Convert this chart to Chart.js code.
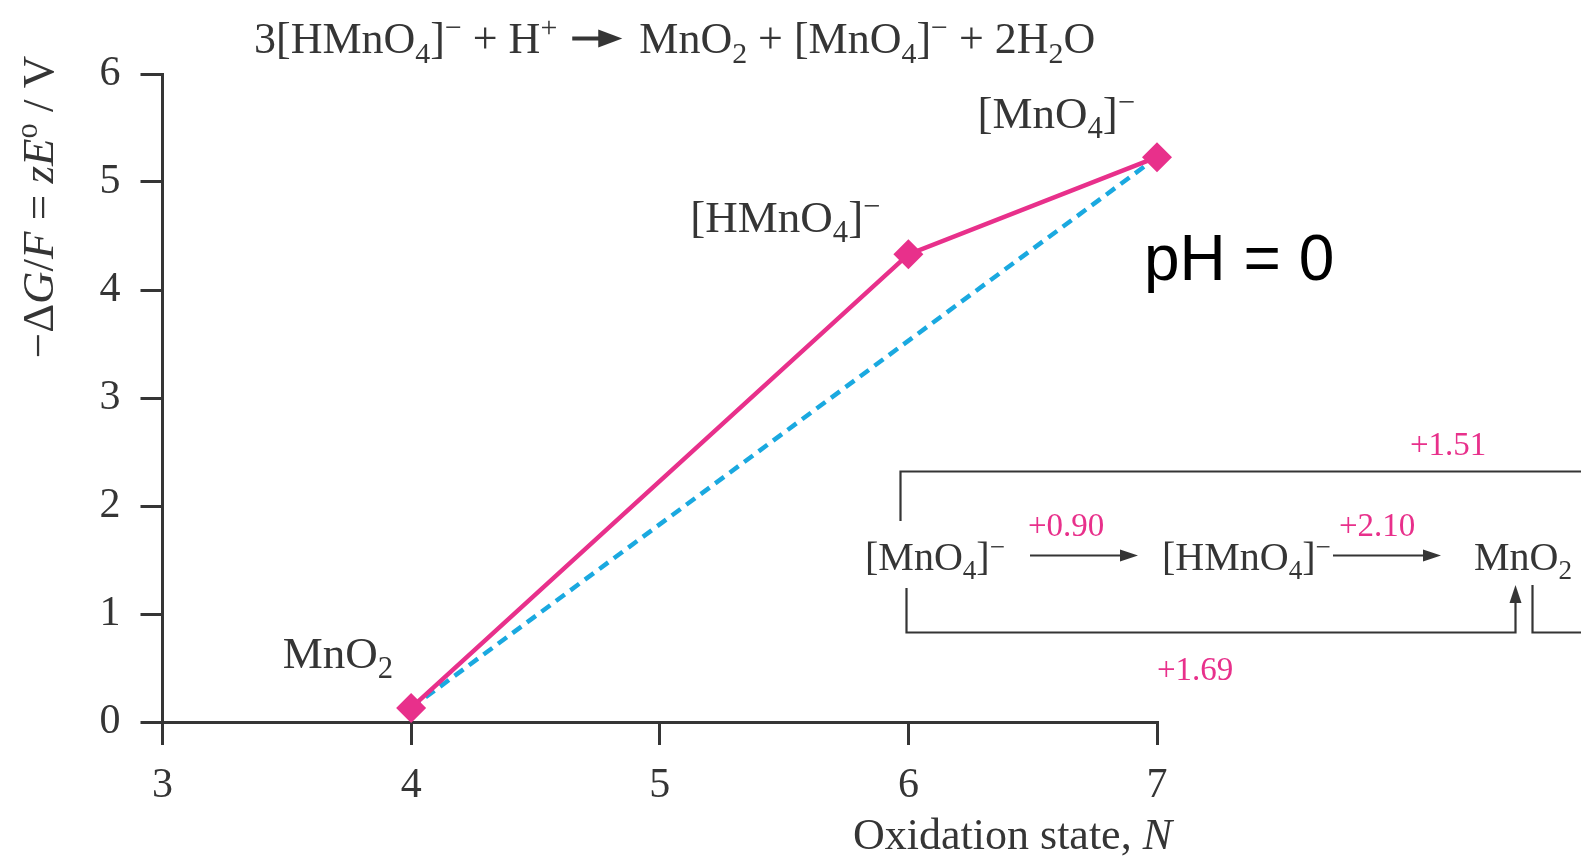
<!DOCTYPE html>
<html>
<head>
<meta charset="utf-8">
<script src="https://cdn.jsdelivr.net/npm/chart.js@4.4.1/dist/chart.umd.min.js"></script>
<style>
  body { margin: 0; background: #fff; }
  #chart { display: block; }
</style>
</head>
<body>
<canvas id="chart" width="1581" height="862"></canvas>
<script>
// Frost diagram for Mn at pH 0
const oxidationStates = [4, 6, 7];
const speciesLabels = ['MnO2', '[HMnO4]-', '[MnO4]-'];
const volts = [0.13, 4.33, 5.23];

// dashed tie line MnO2 -> [MnO4]-
const tieX = [4, 7];
const tieY = [0.13, 5.23];

const xTicks = [3, 4, 5, 6, 7];
const yTicks = [0, 1, 2, 3, 4, 5, 6];

// inset potentials
const potentials = ['+1.51', '+0.90', '+2.10', '+1.69'];

const PINK = '#e8308b';
const BLUE = '#1aa9e0';
const INK = '#353535';
const SERIF = '"Liberation Serif", "Times New Roman", serif';

// draws text made of parts: [text, mode], mode = '', 'i', 'sub', 'sup', 'arrow'
function rich(ctx, x, y, parts, size, color, align) {
    const fontOf = (p) => {
        let s = (p[1] === 'sub' || p[1] === 'sup') ? size * 0.68 : size;
        return (p[1] === 'i' ? 'italic ' : '') + s + 'px ' + SERIF;
    };
    let widths = parts.map(p => {
        if (p[1] === 'arrow') return p[0];
        ctx.font = fontOf(p);
        return ctx.measureText(p[0]).width;
    });
    let total = widths.reduce((a, b) => a + b, 0);
    let cx = align === 'right' ? x - total : align === 'center' ? x - total / 2 : x;
    ctx.fillStyle = color;
    ctx.strokeStyle = color;
    ctx.textBaseline = 'alphabetic';
    ctx.textAlign = 'left';
    parts.forEach((p, i) => {
        if (p[1] === 'arrow') {
            let ay = y - size * 0.33;
            let a0 = cx + 4, a1 = cx + p[0] - 6;
            ctx.lineWidth = 4;
            ctx.beginPath();
            ctx.moveTo(a0, ay);
            ctx.lineTo(a1 - 14, ay);
            ctx.stroke();
            ctx.beginPath();
            ctx.moveTo(a1, ay);
            ctx.lineTo(a1 - 24, ay - 9);
            ctx.lineTo(a1 - 24, ay + 9);
            ctx.closePath();
            ctx.fill();
        } else {
            ctx.font = fontOf(p);
            let dy = p[1] === 'sub' ? size * 0.22 : p[1] === 'sup' ? -size * 0.36 : 0;
            ctx.fillText(p[0], cx, y + dy);
        }
        cx += widths[i];
    });
    return total;
}

function arrowHead(ctx, x, y, dir) {
    ctx.beginPath();
    if (dir === 'right') {
        ctx.moveTo(x, y);
        ctx.lineTo(x - 18, y - 6);
        ctx.lineTo(x - 18, y + 6);
    } else {
        ctx.moveTo(x, y);
        ctx.lineTo(x - 6, y + 18);
        ctx.lineTo(x + 6, y + 18);
    }
    ctx.closePath();
    ctx.fill();
}

function speciesParts(name) {
    if (name === 'MnO2') return [['MnO'], ['2', 'sub']];
    if (name === '[HMnO4]-') return [['[HMnO'], ['4', 'sub'], [']'], ['\u2212', 'sup']];
    return [['[MnO'], ['4', 'sub'], [']'], ['\u2212', 'sup']];
}

const labelOffsets = [[-18, -40, 'right'], [-28, -22, 'right'], [-22, -29, 'right']];

const decor = {
    id: 'decor',
    afterDraw(chart) {
        const ctx = chart.ctx;
        const xs = chart.scales.x, ys = chart.scales.y;
        ctx.save();

        // title equation
        rich(ctx, 254, 53, [['3[HMnO'], ['4', 'sub'], [']'], ['\u2212', 'sup'], [' + H'], ['+', 'sup'], [' '],
            [60, 'arrow'], [' MnO'], ['2', 'sub'], [' + [MnO'], ['4', 'sub'], [']'], ['\u2212', 'sup'],
            [' + 2H'], ['2', 'sub'], ['O']], 44, INK, 'left');

        // axis titles
        rich(ctx, 1172, 849, [['Oxidation state, '], ['N', 'i']], 44, INK, 'right');
        ctx.save();
        ctx.translate(53, 207);
        ctx.rotate(-Math.PI / 2);
        rich(ctx, 0, 0, [['\u2212\u0394'], ['G', 'i'], ['/'], ['F', 'i'], [' = '], ['z', 'i'], ['E', 'i'],
            ['o', 'sup'], [' / V']], 45, INK, 'center');
        ctx.restore();

        // species labels next to the points
        oxidationStates.forEach((n, i) => {
            let px = xs.getPixelForValue(n), py = ys.getPixelForValue(volts[i]);
            let o = labelOffsets[i];
            rich(ctx, px + o[0], py + o[1], speciesParts(speciesLabels[i]), 45, INK, o[2]);
        });

        // pH note
        ctx.font = '64px "Liberation Sans", Arial, sans-serif';
        ctx.fillStyle = '#000';
        ctx.textAlign = 'left';
        ctx.fillText('pH = 0', 1144, 280);

        // Latimer inset
        ctx.strokeStyle = INK;
        ctx.fillStyle = INK;
        ctx.lineWidth = 2.2;
        ctx.beginPath();
        ctx.moveTo(900.5, 521);
        ctx.lineTo(900.5, 471.5);
        ctx.lineTo(1581, 471.5);
        ctx.moveTo(906.5, 588);
        ctx.lineTo(906.5, 632.5);
        ctx.lineTo(1515.5, 632.5);
        ctx.lineTo(1515.5, 600);
        ctx.moveTo(1532.5, 585);
        ctx.lineTo(1532.5, 632.5);
        ctx.lineTo(1581, 632.5);
        ctx.moveTo(1030, 555.5);
        ctx.lineTo(1125, 555.5);
        ctx.moveTo(1333, 555.5);
        ctx.lineTo(1428, 555.5);
        ctx.stroke();
        arrowHead(ctx, 1138, 555.5, 'right');
        arrowHead(ctx, 1441, 555.5, 'right');
        arrowHead(ctx, 1515.5, 585, 'up');

        rich(ctx, 865, 570, speciesParts('[MnO4]-'), 40, INK, 'left');
        rich(ctx, 1162, 570, speciesParts('[HMnO4]-'), 40, INK, 'left');
        rich(ctx, 1474, 570, speciesParts('MnO2'), 40, INK, 'left');

        rich(ctx, 1410, 455, [[potentials[0]]], 33, PINK, 'left');
        rich(ctx, 1028, 536, [[potentials[1]]], 33, PINK, 'left');
        rich(ctx, 1339, 536, [[potentials[2]]], 33, PINK, 'left');
        rich(ctx, 1157, 680, [[potentials[3]]], 33, PINK, 'left');

        ctx.restore();
    }
};

const tickFont = { family: SERIF, size: 42 };

new Chart(document.getElementById('chart'), {
    type: 'scatter',
    data: {
        datasets: [{
            data: oxidationStates.map((n, i) => ({ x: n, y: volts[i] })),
            showLine: true,
            borderColor: PINK,
            backgroundColor: PINK,
            borderWidth: 4.5,
            pointStyle: 'rectRot',
            pointRadius: 15,
            pointBorderWidth: 0,
            clip: false
        }, {
            data: tieX.map((n, i) => ({ x: n, y: tieY[i] })),
            showLine: true,
            borderColor: BLUE,
            borderWidth: 4.5,
            borderDash: [11, 7],
            pointRadius: 0,
            clip: false
        }]
    },
    options: {
        responsive: false,
        animation: false,
        events: [],
        layout: { padding: { left: 0, top: 74, right: 424, bottom: 0 } },
        plugins: { legend: { display: false }, tooltip: { enabled: false } },
        scales: {
            x: {
                type: 'linear',
                min: xTicks[0],
                max: xTicks[xTicks.length - 1],
                afterBuildTicks: (s) => { s.ticks = xTicks.map(v => ({ value: v })); },
                afterFit: (s) => { s.height = 140; },
                grid: { drawOnChartArea: false, tickLength: 23, color: INK, lineWidth: 3 },
                border: { color: INK, width: 3 },
                ticks: { font: tickFont, color: INK, padding: 16 }
            },
            y: {
                type: 'linear',
                min: yTicks[0],
                max: yTicks[yTicks.length - 1],
                afterBuildTicks: (s) => { s.ticks = yTicks.map(v => ({ value: v })); },
                afterFit: (s) => { s.width = 162.5; },
                grid: { drawOnChartArea: false, tickLength: 22, color: INK, lineWidth: 3 },
                border: { color: INK, width: 3 },
                ticks: { font: tickFont, color: INK, padding: 20 }
            }
        }
    },
    plugins: [decor]
});
</script>
</body>
</html>
